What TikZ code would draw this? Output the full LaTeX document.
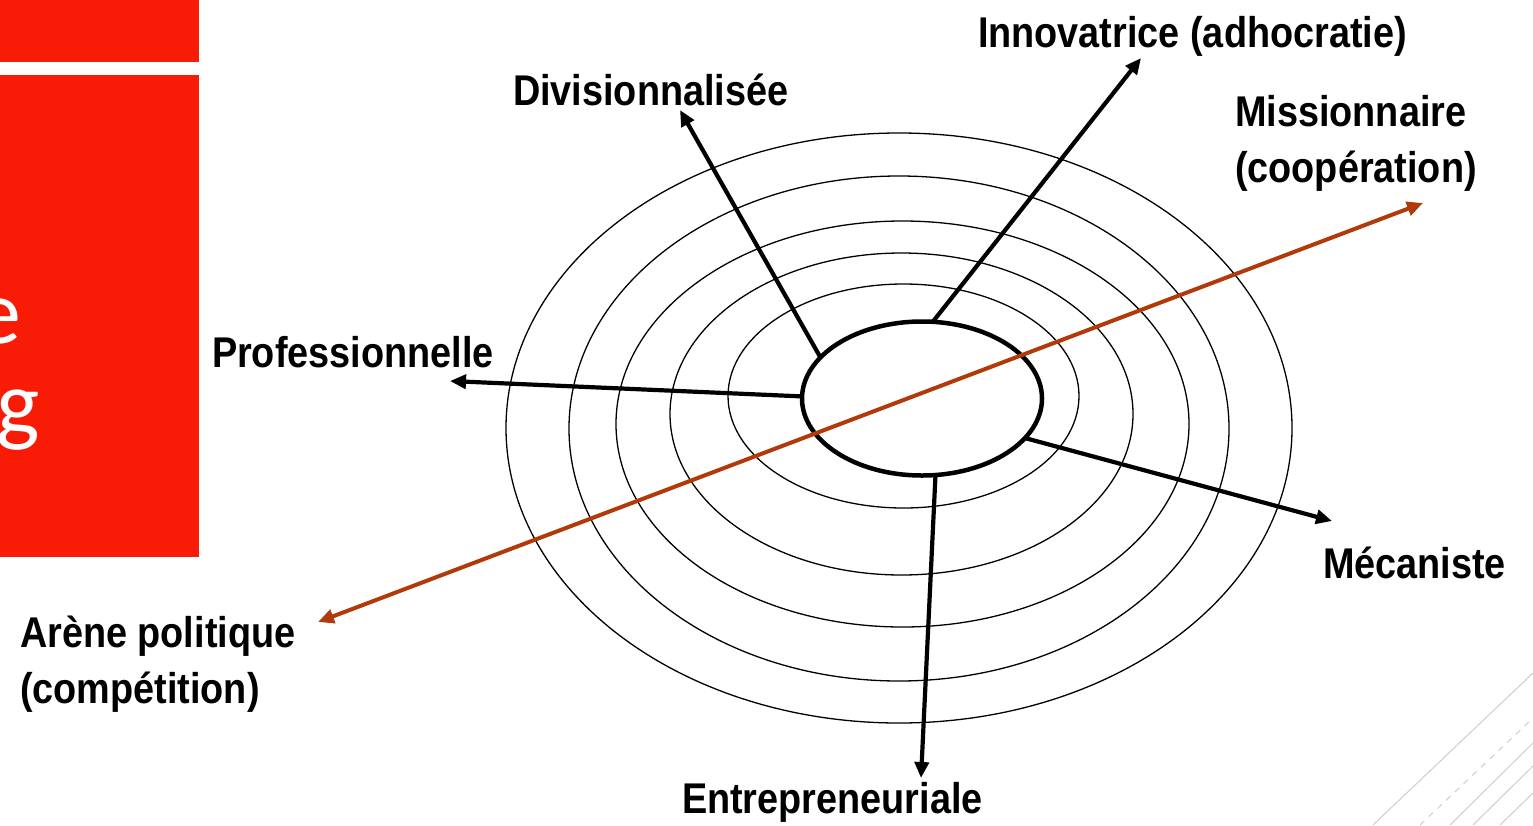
\documentclass[tikz,border=0pt]{standalone}
\usepackage{fontspec}
\usetikzlibrary{arrows.meta,shapes.geometric}
\newfontfamily\labfont[FakeStretch=0.88]{Liberation Sans}
\newfontfamily\slidefont{Carlito}
\definecolor{slidered}{RGB}{248,28,6}
\definecolor{axisbrown}{RGB}{176,58,10}
\definecolor{decogray}{RGB}{205,205,205}
\tikzset{
  lab/.style={inner sep=0pt, outer sep=0pt, align=left, font=\labfont\bfseries\fontsize{43}{56}\selectfont},
  ring/.style={line width=1.3pt, black},
  spoke/.style={line width=4.2pt, black, -{Triangle[length=16pt,width=14pt]}},
  axisline/.style={line width=4pt, axisbrown, {Triangle[length=16pt,width=14pt]}-{Triangle[length=16pt,width=14pt]}},
  deco/.style={line width=1pt, decogray},
  slidetxt/.style={inner sep=0pt, outer sep=0pt, text=white, font=\slidefont\fontsize{92}{100}\selectfont}
}
\begin{document}
\begin{tikzpicture}[x=1pt,y=-1pt]
\useasboundingbox (0,0) rectangle (1533,825);
% left slide panels
\fill[slidered] (0,0) rectangle (199,62);
\fill[slidered] (0,75) rectangle (199,557);
\node[slidetxt, anchor=base east] (te) at (21,343) {e};
\node[slidetxt, anchor=base east] (tg) at (40,434) {g};
% decorative lines
\draw[deco] (1373,825) -- (1533,673);
\draw[deco, dashed, dash pattern=on 6pt off 6pt] (1420,825) -- (1533,718);
\draw[deco] (1450,825) -- (1533,743);
\draw[deco] (1473,825) -- (1533,766);
\draw[deco] (1500,825) -- (1533,793);
% rings
\draw[ring] (899,428) ellipse [x radius=393pt, y radius=295pt];
\draw[ring] (899,428.5) ellipse [x radius=330pt, y radius=252.5pt];
\draw[ring] (902.5,424) ellipse [x radius=286.5pt, y radius=203pt];
\draw[ring] (901.5,414) ellipse [x radius=231.5pt, y radius=161pt];
\draw[ring] (903.5,396) ellipse [x radius=175.5pt, y radius=112pt];
% central ellipse
\node[draw, ellipse, line width=4.5pt, minimum width=240pt, minimum height=154pt, inner sep=0pt, outer sep=0pt, fill=none] (c) at (922,398.5) {};
% axis
\coordinate (axL) at (318,622);
\coordinate (axR) at (1423,203);
\draw[axisline] (axL) -- (axR);
% spoke tips
\coordinate (tDiv) at (680,110);
\coordinate (tInn) at (1141,58);
\coordinate (tPro) at (450,381);
\coordinate (tMec) at (1332,521);
\coordinate (tEnt) at (921,778);
\draw[spoke] (c.158.25) -- (tDiv);
\draw[spoke] (c.82.6) -- (tInn);
\draw[spoke] (c.179.3) -- (tPro);
\draw[spoke] (c.-21) -- (tMec);
\draw[spoke] (c.-80.4) -- (tEnt);
% labels
\node[lab, anchor=base west] (lInn) at (978,47) {Innovatrice (adhocratie)};
\node[lab, anchor=base west] (lDiv) at (513,105) {Divisionnalisée};
\node[lab, anchor=base west] (lMis) at (1235,182) {Missionnaire\\(coopération)};
\node[lab, anchor=base west] (lPro) at (212,367) {Professionnelle};
\node[lab, anchor=base west] (lMec) at (1323,578) {Mécaniste};
\node[lab, anchor=base west] (lAre) at (20,703) {Arène politique\\(compétition)};
\node[lab, anchor=base west] (lEnt) at (682,813) {Entrepreneuriale};
\end{tikzpicture}
\end{document}
